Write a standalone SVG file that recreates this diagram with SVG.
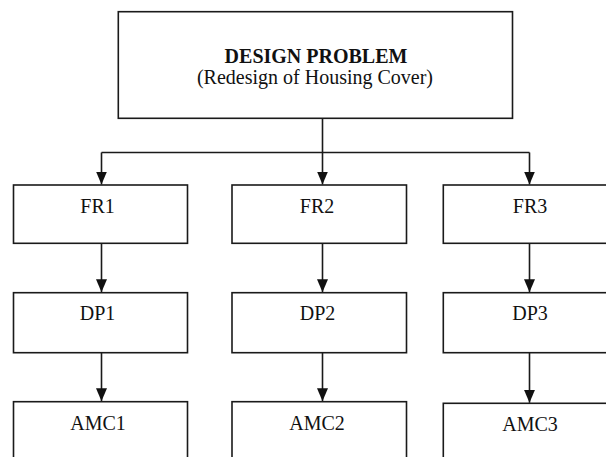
<svg xmlns="http://www.w3.org/2000/svg" width="606" height="457" viewBox="0 0 606 457">
  <style>
    .box { fill: #ffffff; stroke: #1a1a1a; stroke-width: 1.6; }
    .wire { fill: none; stroke: #1a1a1a; stroke-width: 1.6; }
    .lbl { font-family: "Liberation Serif", "Times New Roman", serif; font-size: 20px; fill: #111111; text-anchor: middle; }
    .title { font-weight: bold; }
  </style>
  <defs>
    <marker id="arrow" viewBox="0 0 13 11" refX="13" refY="5.5" markerWidth="13" markerHeight="11" markerUnits="userSpaceOnUse" orient="auto">
      <path d="M0,0 L13,5.5 L0,11 z" fill="#111111"/>
    </marker>
  </defs>
  <rect width="606" height="457" fill="#ffffff"/>

  <g id="connectors">
    <path class="wire" d="M322.5,118.3 V152.5"/>
    <path class="wire" d="M101.5,152.5 H529.5"/>
    <path class="wire" d="M101.5,152.5 V184.5" marker-end="url(#arrow)"/>
    <path class="wire" d="M322.5,152.5 V184.5" marker-end="url(#arrow)"/>
    <path class="wire" d="M529.5,152.5 V184.5" marker-end="url(#arrow)"/>
    <path class="wire" d="M101.5,243.3 V292.2" marker-end="url(#arrow)"/>
    <path class="wire" d="M322.5,243.3 V292.2" marker-end="url(#arrow)"/>
    <path class="wire" d="M529.5,243.3 V292.2" marker-end="url(#arrow)"/>
    <path class="wire" d="M101.5,352.7 V401.2" marker-end="url(#arrow)"/>
    <path class="wire" d="M322.5,352.7 V401.2" marker-end="url(#arrow)"/>
    <path class="wire" d="M529.5,352.7 V402.8" marker-end="url(#arrow)"/>
  </g>

  <g id="design-problem">
    <rect class="box" x="118.3" y="11.7" width="394.2" height="106.6"/>
    <text class="lbl title" x="316" y="62.7">DESIGN PROBLEM</text>
    <text class="lbl" x="315" y="84">(Redesign of Housing Cover)</text>
  </g>

  <g id="fr1">
    <rect class="box" x="13.5" y="185" width="174" height="58.3"/>
    <text class="lbl" x="97.5" y="212.7">FR1</text>
  </g>
  <g id="fr2">
    <rect class="box" x="232" y="185" width="174.5" height="58.3"/>
    <text class="lbl" x="317" y="212.7">FR2</text>
  </g>
  <g id="fr3">
    <rect class="box" x="443.3" y="185" width="200" height="58.3"/>
    <text class="lbl" x="530" y="212.7">FR3</text>
  </g>

  <g id="dp1">
    <rect class="box" x="13.5" y="292.7" width="174" height="60"/>
    <text class="lbl" x="97.5" y="320">DP1</text>
  </g>
  <g id="dp2">
    <rect class="box" x="232" y="292.7" width="174.5" height="60"/>
    <text class="lbl" x="317.5" y="320">DP2</text>
  </g>
  <g id="dp3">
    <rect class="box" x="443.3" y="292.7" width="200" height="60"/>
    <text class="lbl" x="530" y="320">DP3</text>
  </g>

  <g id="amc1">
    <rect class="box" x="13.5" y="401.7" width="174" height="80"/>
    <text class="lbl" x="98" y="430">AMC1</text>
  </g>
  <g id="amc2">
    <rect class="box" x="232" y="401.7" width="174.5" height="80"/>
    <text class="lbl" x="317" y="430">AMC2</text>
  </g>
  <g id="amc3">
    <rect class="box" x="443.3" y="403.3" width="200" height="80"/>
    <text class="lbl" x="530" y="431">AMC3</text>
  </g>
</svg>
